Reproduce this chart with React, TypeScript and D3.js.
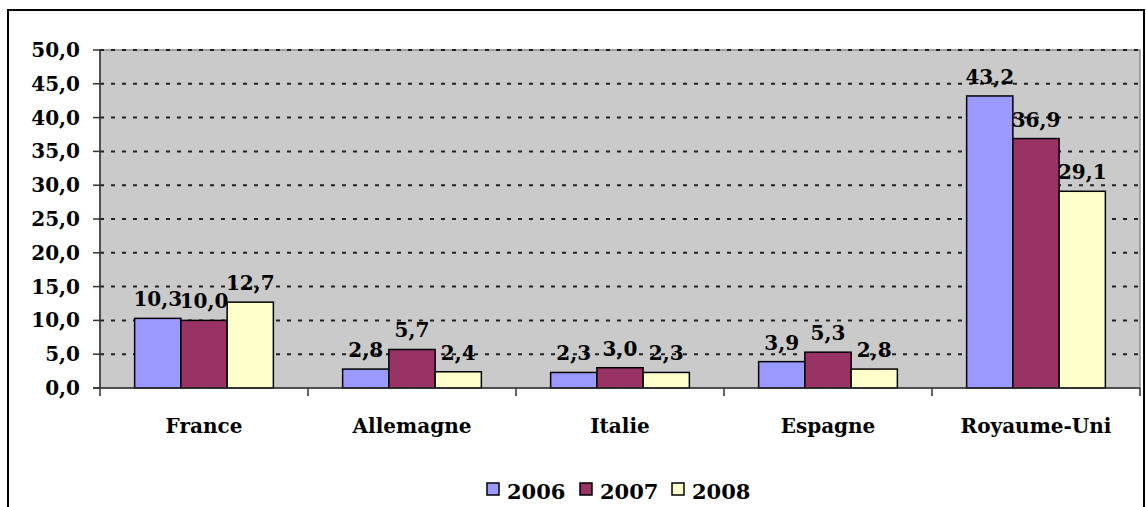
import React, { useEffect, useRef } from 'react';
import * as d3 from 'd3';

const categories = ['France', 'Allemagne', 'Italie', 'Espagne', 'Royaume-Uni'];
const seriesNames = ['2006', '2007', '2008'];
const values2006 = [10.3, 2.8, 2.3, 3.9, 43.2];
const values2007 = [10.0, 5.7, 3.0, 5.3, 36.9];
const values2008 = [12.7, 2.4, 2.3, 2.8, 29.1];
const yTicks = [0, 5, 10, 15, 20, 25, 30, 35, 40, 45, 50];
const colors = ['#9999ff', '#993366', '#ffffcc'];

const fmt = (v: number) => v.toFixed(1).replace('.', ',');

const App = () => {
  const ref = useRef<SVGSVGElement>(null);

  useEffect(() => {
    const svg = d3.select(ref.current);
    svg.selectAll('*').remove();

    const font = 'DejaVu Serif';
    const left = 100, right = 1140, top = 50, bottom = 388;
    const series = [values2006, values2007, values2008];

    // outer frame
    svg.append('rect')
      .attr('x', 8).attr('y', 10).attr('width', 1136).attr('height', 510)
      .attr('fill', 'white').attr('stroke', 'black').attr('stroke-width', 2);

    const x0 = d3.scaleBand().domain(categories).range([left, right]);
    const groupW = x0.bandwidth() * 0.667;
    const x1 = d3.scaleBand().domain(seriesNames).range([0, groupW]);
    const y = d3.scaleLinear().domain([0, 50]).range([bottom, top]);

    // plot area
    svg.append('rect')
      .attr('x', left).attr('y', top).attr('width', right - left).attr('height', bottom - top)
      .attr('fill', '#cacaca').attr('stroke', '#8c8c8c').attr('stroke-width', 1.5);

    // gridlines
    svg.append('g').selectAll('line')
      .data(yTicks.filter(d => d > 0))
      .enter().append('line')
      .attr('x1', left).attr('x2', right)
      .attr('y1', d => y(d)).attr('y2', d => y(d))
      .attr('stroke', '#222').attr('stroke-width', 2)
      .attr('stroke-dasharray', '4,7');

    // bars
    const offset = (x0.bandwidth() - groupW) / 2;
    series.forEach((vals, si) => {
      const g = svg.append('g');
      g.selectAll('rect')
        .data(vals)
        .enter().append('rect')
        .attr('x', (d, i) => (x0(categories[i]) as number) + offset + (x1(seriesNames[si]) as number))
        .attr('y', d => y(d))
        .attr('width', x1.bandwidth())
        .attr('height', d => bottom - y(d))
        .attr('fill', colors[si])
        .attr('stroke', 'black').attr('stroke-width', 1.5);
    });

    // data labels
    series.forEach((vals, si) => {
      svg.append('g').selectAll('text')
        .data(vals)
        .enter().append('text')
        .attr('x', (d, i) => (x0(categories[i]) as number) + offset + (x1(seriesNames[si]) as number) + x1.bandwidth() / 2)
        .attr('y', d => y(d) - 12)
        .attr('text-anchor', 'middle')
        .attr('font-family', font).attr('font-weight', 'bold').attr('font-size', 20)
        .text(d => fmt(d));
    });

    // y axis
    const yAxis = svg.append('g');
    yAxis.append('line')
      .attr('x1', left).attr('x2', left).attr('y1', top).attr('y2', bottom)
      .attr('stroke', '#333').attr('stroke-width', 1.5);
    yAxis.selectAll('line.tick')
      .data(yTicks)
      .enter().append('line')
      .attr('class', 'tick')
      .attr('x1', left - 7).attr('x2', left)
      .attr('y1', d => y(d)).attr('y2', d => y(d))
      .attr('stroke', '#333').attr('stroke-width', 1.5);
    yAxis.selectAll('text')
      .data(yTicks)
      .enter().append('text')
      .attr('x', 80).attr('y', d => y(d) + 7)
      .attr('text-anchor', 'end')
      .attr('font-family', font).attr('font-weight', 'bold').attr('font-size', 20)
      .text(d => fmt(d));

    // x axis
    const xAxis = svg.append('g');
    xAxis.append('line')
      .attr('x1', left - 7).attr('x2', right).attr('y1', bottom).attr('y2', bottom)
      .attr('stroke', '#333').attr('stroke-width', 1.5);
    const bounds = categories.map(c => x0(c) as number).concat([right]);
    xAxis.selectAll('line.tick')
      .data(bounds)
      .enter().append('line')
      .attr('class', 'tick')
      .attr('x1', d => d).attr('x2', d => d)
      .attr('y1', bottom).attr('y2', bottom + 8)
      .attr('stroke', '#333').attr('stroke-width', 1.5);
    xAxis.selectAll('text')
      .data(categories)
      .enter().append('text')
      .attr('x', d => (x0(d) as number) + x0.bandwidth() / 2)
      .attr('y', 433)
      .attr('text-anchor', 'middle')
      .attr('font-family', font).attr('font-weight', 'bold').attr('font-size', 20)
      .text(d => d);

    // legend
    const legendX = [487, 580, 672];
    const legend = svg.append('g');
    seriesNames.forEach((name, i) => {
      legend.append('rect')
        .attr('x', legendX[i]).attr('y', 483).attr('width', 12).attr('height', 12)
        .attr('fill', colors[i]).attr('stroke', 'black').attr('stroke-width', 1.5);
      legend.append('text')
        .attr('x', legendX[i] + 20).attr('y', 499)
        .attr('font-family', font).attr('font-weight', 'bold').attr('font-size', 21)
        .text(name);
    });
  }, []);

  return (
    <svg ref={ref} width={1146} height={507}
      style={{ position: 'absolute', left: 0, top: 0, display: 'block' }} />
  );
};

export default App;
